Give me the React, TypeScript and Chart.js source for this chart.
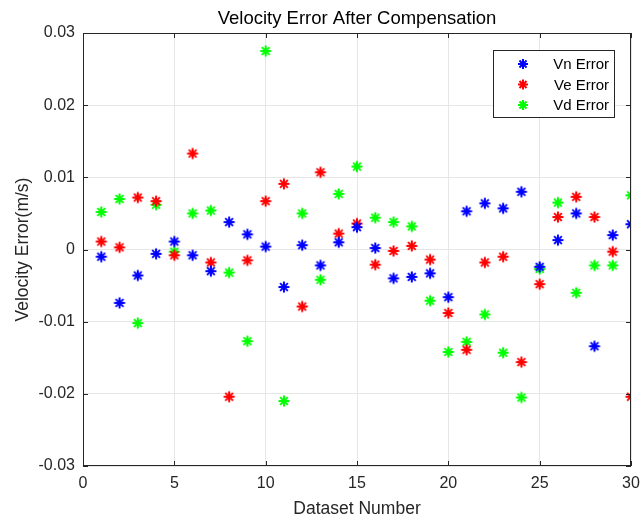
import React, { useEffect, useRef } from "react";
import { Chart, registerables } from "chart.js";

Chart.register(...registerables);

const datasetNumbers = [1,2,3,4,5,6,7,8,9,10,11,12,13,14,15,16,17,18,19,20,21,22,23,24,25,26,27,28,29,30];
const vnError = [-0.001,-0.0074,-0.0036,-0.0006,0.0011,-0.0008,-0.003,0.0038,0.0021,0.0004,-0.0052,0.0006,-0.0022,0.001,0.0031,0.0002,-0.004,-0.0038,-0.0033,-0.0066,0.0053,0.0064,0.0057,0.008,-0.0024,0.0013,0.005,-0.0134,0.002,0.0035];
const veError = [0.0011,0.0003,0.0072,0.0067,-0.0008,0.0133,-0.0018,-0.0204,-0.0015,0.0067,0.0091,-0.0079,0.0107,0.0022,0.0036,-0.0021,-0.0002,0.0005,-0.0014,-0.0088,-0.0139,-0.0018,-0.001,-0.0156,-0.0048,0.0045,0.0073,0.0045,-0.0003,-0.0204];
const vdError = [0.0052,0.007,-0.0102,0.0062,-0.0003,0.005,0.0054,-0.0032,-0.0127,0.0275,-0.021,0.005,-0.0042,0.0077,0.0115,0.0044,0.0038,0.0032,-0.0071,-0.0142,-0.0128,-0.009,-0.0143,-0.0205,-0.0027,0.0065,-0.006,-0.0022,-0.0022,0.0075];
const seriesNames = ["Vn Error", "Ve Error", "Vd Error"];
const seriesColors = ["#0000ff", "#ff0000", "#00ff00"];
const xTicks = [0, 5, 10, 15, 20, 25, 30];
const yTicks = [-0.03, -0.02, -0.01, 0, 0.01, 0.02, 0.03];
const titleText = "Velocity Error After Compensation";
const xTitle = "Dataset Number";
const yTitle = "Velocity Error(m/s)";

const FONT = "'Liberation Sans', Arial, sans-serif";

function drawStar(ctx: CanvasRenderingContext2D, x: number, y: number, r: number, color: string) {
  ctx.save();
  ctx.strokeStyle = color;
  ctx.lineWidth = 2;
  ctx.beginPath();
  for (let i = 0; i < 4; i++) {
    const a = (i * Math.PI) / 4;
    ctx.moveTo(x - r * Math.cos(a), y - r * Math.sin(a));
    ctx.lineTo(x + r * Math.cos(a), y + r * Math.sin(a));
  }
  ctx.stroke();
  ctx.restore();
}

const overlay = {
  id: "matlabOverlay",
  afterDraw(chart: any) {
    const ctx: CanvasRenderingContext2D = chart.ctx;
    const { left, right, top, bottom } = chart.chartArea;
    const xs = chart.scales.x;
    const ys = chart.scales.y;
    ctx.save();
    ctx.strokeStyle = "#262626";
    ctx.lineWidth = 1;
    ctx.strokeRect(left + 0.5, top + 0.5, right - left - 1, bottom - top - 1);
    ctx.beginPath();
    xTicks.forEach((t) => {
      const px = Math.round(xs.getPixelForValue(t)) + 0.5;
      ctx.moveTo(px, bottom);
      ctx.lineTo(px, bottom - 5);
      ctx.moveTo(px, top);
      ctx.lineTo(px, top + 5);
    });
    yTicks.forEach((t) => {
      const py = Math.round(ys.getPixelForValue(t)) + 0.5;
      ctx.moveTo(left, py);
      ctx.lineTo(left + 5, py);
      ctx.moveTo(right, py);
      ctx.lineTo(right - 5, py);
    });
    ctx.stroke();
    ctx.fillStyle = "#000";
    ctx.font = `18.5px ${FONT}`;
    ctx.textAlign = "center";
    ctx.textBaseline = "middle";
    ctx.fillText(titleText, (left + right) / 2, 19);
    ctx.fillStyle = "#262626";
    ctx.font = `17.5px ${FONT}`;
    ctx.fillText(xTitle, (left + right) / 2, 509);
    ctx.save();
    ctx.translate(23, (top + bottom) / 2);
    ctx.rotate(-Math.PI / 2);
    ctx.fillText(yTitle, 0, 0);
    ctx.restore();
    const lx = 493, ly = 50, lw = 121, lh = 67;
    ctx.fillStyle = "#fff";
    ctx.fillRect(lx, ly, lw, lh);
    ctx.strokeStyle = "#262626";
    ctx.strokeRect(lx + 0.5, ly + 0.5, lw, lh);
    ctx.font = `15px ${FONT}`;
    ctx.textAlign = "right";
    ctx.fillStyle = "#000";
    seriesNames.forEach((n, i) => {
      const yy = 64 + i * 20.5;
      drawStar(ctx, 523, yy, 5, seriesColors[i]);
      ctx.fillText(n, 609, yy + 1);
    });
    ctx.restore();
  },
};

export default function App() {
  const ref = useRef<HTMLCanvasElement>(null);
  useEffect(() => {
    document.body.style.margin = "0";
    const makeMarker = (color: string) => {
      const c = document.createElement("canvas");
      c.width = 14;
      c.height = 14;
      const cx = c.getContext("2d")!;
      drawStar(cx, 7, 7, 5.5, color);
      return c;
    };
    const series = [vnError, veError, vdError];
    const chart = new Chart(ref.current!, {
      type: "scatter",
      data: {
        datasets: series.map((vals, i) => ({
          label: seriesNames[i],
          data: datasetNumbers.map((x, j) => ({ x, y: vals[j] })),
          pointStyle: makeMarker(seriesColors[i]) as any,
          borderColor: seriesColors[i],
          backgroundColor: seriesColors[i],
          pointRadius: 6,
        })),
      },
      options: {
        responsive: false,
        animation: false,
        layout: { padding: { top: 33, right: 13, left: 0, bottom: 0 } },
        plugins: { legend: { display: false }, title: { display: false }, tooltip: { enabled: false } },
        scales: {
          x: {
            type: "linear",
            min: 0,
            max: 30,
            afterFit: (s: any) => { s.height = 57; s.paddingLeft = 0; s.paddingRight = 0; },
            afterBuildTicks: (s: any) => { s.ticks = xTicks.map((v) => ({ value: v })); },
            grid: { color: "#e6e6e6", drawTicks: false },
            border: { display: false },
            ticks: { color: "#262626", font: { family: FONT, size: 16 }, padding: 8, callback: (v: any) => String(v) },
          },
          y: {
            type: "linear",
            min: -0.03,
            max: 0.03,
            afterFit: (s: any) => { s.width = 83; s.paddingTop = 0; s.paddingBottom = 0; },
            afterBuildTicks: (s: any) => { s.ticks = yTicks.map((v) => ({ value: v })); },
            grid: { color: "#e6e6e6", drawTicks: false },
            border: { display: false },
            ticks: {
              color: "#262626",
              font: { family: FONT, size: 16 },
              padding: 8,
              callback: (v: any) => {
                const n = Math.round(Number(v) * 100) / 100;
                return n === 0 ? "0" : String(n);
              },
            },
          },
        },
      },
      plugins: [overlay],
    } as any);
    return () => chart.destroy();
  }, []);
  return <canvas ref={ref} width={644} height={523} style={{ display: "block" }} />;
}
